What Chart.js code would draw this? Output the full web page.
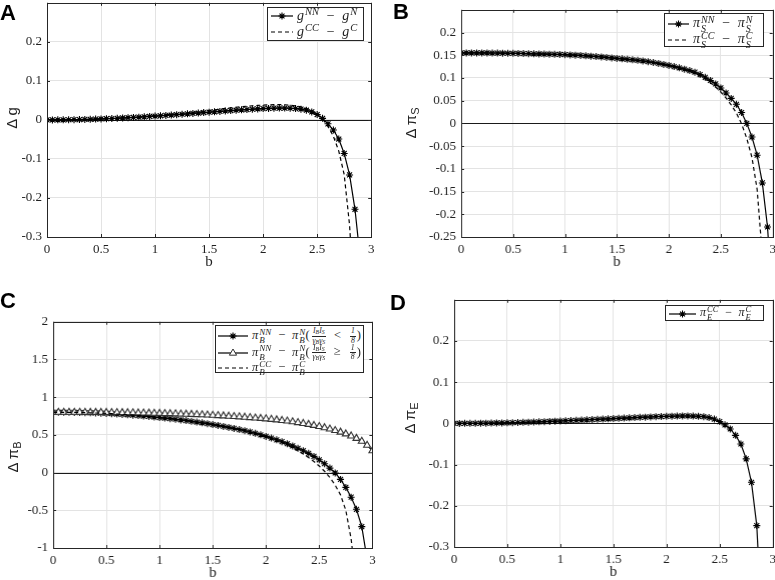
<!DOCTYPE html>
<html>
<head>
<meta charset="utf-8">
<title>Payoff differences vs b</title>
<script src="https://cdn.jsdelivr.net/npm/chart.js@4.4.1/dist/chart.umd.min.js"></script>
<style>
  html, body { margin: 0; padding: 0; background: #fff; }
  body { position: relative; width: 775px; height: 580px; overflow: hidden; }
  .panel { position: absolute; }
  .letter { position: absolute; font: bold 22px 'Liberation Sans', Arial, sans-serif; line-height: 22px; color: #000; }
  .ytitle { position: absolute; font: 15px 'Liberation Sans', Arial, sans-serif; color: #1f1f1f; white-space: nowrap; line-height: 1;
            transform: translate(-50%, -50%) rotate(-90deg); }
  .ytitle sub { font-size: 11px; vertical-align: -3px; }
  .legend { position: absolute; box-sizing: border-box; border: 1px solid #262626; background: #fff; color: #1f1f1f;
            font-family: 'Liberation Serif', 'Times New Roman', serif; font-style: italic; }
  .legend .row { position: absolute; left: 0; height: 16px; display: flex; align-items: center; white-space: nowrap; }
  .legend svg { flex: none; }
  .legend .txt { margin-left: 4px; }
  .legend sup { font-size: 0.75em; vertical-align: 0.5em; line-height: 0; margin-left: 1px; }
  .ss { display: inline-flex; flex-direction: column; font-size: 0.72em; line-height: 0.92; vertical-align: middle; margin-left: 1px; }
  .op { font-style: normal; margin: 0 0.55em; }
  .par { font-style: normal; }
  .frac { display: inline-flex; flex-direction: column; align-items: center; font-size: 0.62em; vertical-align: middle; margin: 0 1px 0 2px; }
  .frac > span { display: block; line-height: 1.05; padding: 0 1px; }
  .frac > span:first-child { border-bottom: 0.7px solid #262626; }
  .frac sub { font-size: 0.75em; vertical-align: -0.15em; line-height: 0; }
</style>
</head>
<body>
<script>
// ─── DATA ───────────────────────────────────────────
// b grid (markers every 0.05)
const bValues = [0, 0.05, 0.1, 0.15, 0.2, 0.25, 0.3, 0.35, 0.4, 0.45,
  0.5, 0.55, 0.6, 0.65, 0.7, 0.75, 0.8, 0.85, 0.9, 0.95,
  1, 1.05, 1.1, 1.15, 1.2, 1.25, 1.3, 1.35, 1.4, 1.45,
  1.5, 1.55, 1.6, 1.65, 1.7, 1.75, 1.8, 1.85, 1.9, 1.95,
  2, 2.05, 2.1, 2.15, 2.2, 2.25, 2.3, 2.35, 2.4, 2.45,
  2.5, 2.55, 2.6, 2.65, 2.7, 2.75, 2.8, 2.85, 2.9, 2.95, 3];

const xTicks = [0, 0.5, 1, 1.5, 2, 2.5, 3];
const yTicksA = [-0.3, -0.2, -0.1, 0, 0.1, 0.2];
const yTicksB = [-0.25, -0.2, -0.15, -0.1, -0.05, 0, 0.05, 0.1, 0.15, 0.2];
const yTicksC = [-1, -0.5, 0, 0.5, 1, 1.5, 2];
const yTicksD = [-0.3, -0.2, -0.1, 0, 0.1, 0.2];

// A: g^NN - g^N (stars) and g^CC - g^C (dashed)
const gNN = [0, 0, 0.0001, 0.0002, 0.0004, 0.0006, 0.0009, 0.0012, 0.0016, 0.002,
  0.0025, 0.003, 0.0036, 0.0042, 0.0049, 0.0056, 0.0063, 0.0071, 0.0079, 0.0088,
  0.0097, 0.0106, 0.0115, 0.0125, 0.0135, 0.0145, 0.0155, 0.0166, 0.0176, 0.0187,
  0.0197, 0.0207, 0.0218, 0.0228, 0.0238, 0.0248, 0.0257, 0.0266, 0.0274, 0.0282,
  0.0289, 0.0295, 0.03, 0.0303, 0.0303, 0.03, 0.0291, 0.0275, 0.0248, 0.0205,
  0.0138, 0.004, -0.01, -0.026, -0.049, -0.086, -0.141, -0.229, -0.36];
const gCC = [0, 0, 0.0001, 0.0002, 0.0004, 0.0006, 0.0009, 0.0013, 0.0017, 0.0021,
  0.0026, 0.0032, 0.0038, 0.0045, 0.0052, 0.006, 0.0068, 0.0077, 0.0087, 0.0097,
  0.0108, 0.0119, 0.0131, 0.0143, 0.0156, 0.0169, 0.0183, 0.0197, 0.0211, 0.0225,
  0.024, 0.0258, 0.0276, 0.0293, 0.0309, 0.0324, 0.0338, 0.0351, 0.0362, 0.0372,
  0.038, 0.0386, 0.039, 0.0391, 0.0388, 0.0378, 0.036, 0.0332, 0.029, 0.0228,
  0.014, 0.002, -0.016, -0.042, -0.08, -0.14, -0.27, -0.5];

// B: pi_S
const piSNN = [0.1552, 0.1552, 0.1552, 0.1551, 0.1551, 0.155, 0.1549, 0.1548, 0.1546, 0.1544,
  0.1542, 0.154, 0.1537, 0.1534, 0.1531, 0.1528, 0.1526, 0.1523, 0.152, 0.1517,
  0.1513, 0.1508, 0.1502, 0.1495, 0.1488, 0.148, 0.1471, 0.1462, 0.1452, 0.1442,
  0.143, 0.1421, 0.1411, 0.14, 0.1388, 0.1374, 0.1358, 0.134, 0.132, 0.1298,
  0.1275, 0.125, 0.1223, 0.1194, 0.1162, 0.1127, 0.1075, 0.1015, 0.0945, 0.0868,
  0.078, 0.067, 0.055, 0.042, 0.024, 0.0, -0.03, -0.07, -0.131, -0.228, -0.4];
const piSCC = [0.1552, 0.1552, 0.1552, 0.1551, 0.1551, 0.155, 0.1549, 0.1548, 0.1546, 0.1544,
  0.1542, 0.154, 0.1537, 0.1534, 0.1531, 0.1528, 0.1526, 0.1523, 0.152, 0.1517,
  0.1513, 0.1508, 0.1502, 0.1495, 0.1488, 0.148, 0.1471, 0.1462, 0.1452, 0.1442,
  0.143, 0.1421, 0.1411, 0.14, 0.1388, 0.1374, 0.1358, 0.134, 0.132, 0.1298,
  0.1275, 0.125, 0.1215, 0.118, 0.114, 0.1095, 0.104, 0.0975, 0.0895, 0.08,
  0.069, 0.056, 0.041, 0.023, -0.001, -0.033, -0.075, -0.145, -0.29];

// C: pi_B
const piBNNlow = [0.8, 0.8, 0.7995, 0.799, 0.798, 0.7965, 0.795, 0.793, 0.7905, 0.788,
  0.785, 0.781, 0.777, 0.772, 0.767, 0.762, 0.756, 0.75, 0.744, 0.737,
  0.73, 0.723, 0.7155, 0.7075, 0.699, 0.69, 0.6805, 0.6705, 0.66, 0.649,
  0.6375, 0.6255, 0.613, 0.5995, 0.5855, 0.571, 0.5555, 0.539, 0.5215, 0.501,
  0.48, 0.458, 0.435, 0.41, 0.383, 0.354, 0.323, 0.29, 0.255, 0.215,
  0.17, 0.118, 0.06, -0.005, -0.09, -0.196, -0.326, -0.487, -0.717, -1.15];
const piBNNhigh = [0.8, 0.8, 0.8, 0.8, 0.7998, 0.7996, 0.7993, 0.799, 0.7986, 0.7981,
  0.7975, 0.7968, 0.796, 0.7951, 0.7941, 0.793, 0.7917, 0.7903, 0.7888, 0.7871,
  0.7853, 0.7835, 0.7815, 0.7794, 0.7771, 0.7747, 0.7721, 0.7693, 0.7663, 0.7631,
  0.7597, 0.7561, 0.7523, 0.7483, 0.744, 0.7395, 0.7347, 0.7297, 0.7244, 0.7188,
  0.7129, 0.7064, 0.6994, 0.6919, 0.6834, 0.6739, 0.6634, 0.6519, 0.6394, 0.6259,
  0.6114, 0.5955, 0.578, 0.5585, 0.537, 0.513, 0.486, 0.454, 0.415, 0.363, 0.29];
const piBCC = [0.8, 0.8, 0.7995, 0.799, 0.798, 0.7965, 0.795, 0.793, 0.7905, 0.788,
  0.785, 0.781, 0.777, 0.772, 0.767, 0.762, 0.756, 0.75, 0.744, 0.737,
  0.73, 0.723, 0.7155, 0.7075, 0.699, 0.69, 0.6805, 0.6705, 0.66, 0.649,
  0.6375, 0.6255, 0.613, 0.5995, 0.5855, 0.571, 0.5555, 0.539, 0.5215, 0.5,
  0.477, 0.452, 0.425, 0.396, 0.364, 0.329, 0.29, 0.247, 0.2, 0.147,
  0.087, 0.018, -0.065, -0.165, -0.295, -0.5, -0.88, -1.5];

// D: pi_E
const piECC = [0, 0, 0.0001, 0.0001, 0.0002, 0.0004, 0.0005, 0.0007, 0.001, 0.0012,
  0.0015, 0.0018, 0.0022, 0.0025, 0.0029, 0.0034, 0.0038, 0.0043, 0.0048, 0.0053,
  0.0058, 0.0064, 0.0069, 0.0075, 0.0081, 0.0087, 0.0093, 0.0099, 0.0105, 0.0111,
  0.0117, 0.0123, 0.0129, 0.0135, 0.0141, 0.0147, 0.0152, 0.0157, 0.0162, 0.0167,
  0.0171, 0.0175, 0.0178, 0.018, 0.0181, 0.0179, 0.0173, 0.0162, 0.0141, 0.0105,
  0.0045, -0.0035, -0.0135, -0.029, -0.05, -0.086, -0.143, -0.248, -0.5];

// ─── STYLE ──────────────────────────────────────────
const INK = '#1f1f1f';
const GRID = '#e3e3e3';
const SERIF = '"Liberation Serif", "DejaVu Serif", serif';
const Y_AXIS_W = 46, X_AXIS_H = 34, PAD_T = 10, PAD_R = 12;

Chart.defaults.font.family = SERIF;
Chart.defaults.color = INK;

function curve(values, kind) {
  return {
    data: values.map((v, i) => ({ x: bValues[i], y: v })),
    borderColor: '#000',
    borderWidth: 1.2,
    borderDash: kind === 'dash' ? [4, 3] : [],
    pointStyle: kind === 'tri' ? 'triangle' : 'star',
    pointRadius: kind === 'dash' ? 0 : (kind === 'tri' ? 4 : 3.5),
    pointBorderColor: kind === 'tri' ? '#333' : '#000',
    pointBackgroundColor: '#fff',
    pointBorderWidth: 1.1,
    tension: 0,
    fill: false,
  };
}

// box, inward ticks and the zero reference line
const framePlugin = {
  id: 'frame',
  beforeDatasetsDraw(chart) {
    const { ctx, chartArea: a, scales: { y } } = chart;
    const y0 = Math.round(y.getPixelForValue(0)) + 0.5;
    ctx.save();
    ctx.strokeStyle = '#1a1a1a';
    ctx.lineWidth = 1.2;
    ctx.beginPath(); ctx.moveTo(a.left, y0); ctx.lineTo(a.right, y0); ctx.stroke();
    ctx.restore();
  },
  afterDatasetsDraw(chart) {
    const { ctx, chartArea: a, scales: { x, y } } = chart;
    ctx.save();
    ctx.strokeStyle = '#262626';
    ctx.lineWidth = 1;
    ctx.strokeRect(Math.round(a.left) + 0.5, Math.round(a.top) + 0.5,
      Math.round(a.right - a.left), Math.round(a.bottom - a.top));
    ctx.beginPath();
    x.ticks.forEach(t => {
      const px = Math.round(x.getPixelForValue(t.value)) + 0.5;
      ctx.moveTo(px, a.bottom); ctx.lineTo(px, a.bottom - 3);
      ctx.moveTo(px, a.top); ctx.lineTo(px, a.top + 3);
    });
    y.ticks.forEach(t => {
      const py = Math.round(y.getPixelForValue(t.value)) + 0.5;
      ctx.moveTo(a.left, py); ctx.lineTo(a.left + 3, py);
      ctx.moveTo(a.right, py); ctx.lineTo(a.right - 3, py);
    });
    ctx.stroke();
    ctx.restore();
  }
};

function fmt(v) { return String(+v.toFixed(2)); }

function makePanel(p) {
  const a = p.area;
  const div = document.createElement('div');
  div.className = 'panel';
  div.style.left = (a.left - Y_AXIS_W) + 'px';
  div.style.top = (a.top - PAD_T) + 'px';
  div.style.width = (a.right - a.left + Y_AXIS_W + PAD_R) + 'px';
  div.style.height = (a.bottom - a.top + PAD_T + X_AXIS_H) + 'px';
  const canvas = document.createElement('canvas');
  div.appendChild(canvas);
  document.body.appendChild(div);

  return new Chart(canvas, {
    type: 'line',
    data: { datasets: p.datasets },
    options: {
      responsive: true,
      maintainAspectRatio: false,
      animation: false,
      layout: { padding: { top: PAD_T, right: PAD_R, left: 0, bottom: 0 } },
      plugins: { legend: { display: false }, tooltip: { enabled: false } },
      scales: {
        x: {
          type: 'linear', min: 0, max: 3,
          afterBuildTicks: s => { s.ticks = xTicks.map(v => ({ value: v })); },
          afterFit: s => { s.height = X_AXIS_H; },
          ticks: { padding: 5, color: INK, font: { family: SERIF, size: 13 }, callback: fmt, maxRotation: 0 },
          grid: { color: GRID, drawTicks: false },
          border: { display: false },
          title: { display: true, text: 'b', color: INK, padding: 0, font: { family: SERIF, size: 15 } },
        },
        y: {
          type: 'linear', min: p.yMin, max: p.yMax,
          afterBuildTicks: s => { s.ticks = p.yTicks.map(v => ({ value: v })); },
          afterFit: s => { s.width = Y_AXIS_W; },
          ticks: { padding: 5, color: INK, font: { family: SERIF, size: 13 }, callback: fmt },
          grid: { color: GRID, drawTicks: false },
          border: { display: false },
        }
      }
    },
    plugins: [framePlugin]
  });
}

// ─── LEGEND / LABEL OVERLAYS ────────────────────────
function sampleSvg(kind, w) {
  const h = 10, c = 5, m = w / 2;
  let s = `<svg width="${w}" height="${h}">`;
  s += `<line x1="0" y1="${c}" x2="${w}" y2="${c}" stroke="#000" stroke-width="1.2"${kind === 'dash' ? ' stroke-dasharray="4 3"' : ''}/>`;
  if (kind === 'star') {
    const r = 3.5, d = r * 0.707;
    s += `<path d="M${m - r} ${c}H${m + r}M${m} ${c - r}V${c + r}M${m - d} ${c - d}L${m + d} ${c + d}M${m - d} ${c + d}L${m + d} ${c - d}" stroke="#000" stroke-width="1.1"/>`;
  } else if (kind === 'tri') {
    s += `<polygon points="${m},${c - 4} ${m + 3.6},${c + 2.2} ${m - 3.6},${c + 2.2}" fill="#fff" stroke="#333" stroke-width="1"/>`;
  }
  return s + '</svg>';
}

function addLegend(L) {
  const box = document.createElement('div');
  box.className = 'legend';
  Object.assign(box.style, { left: L.left + 'px', top: L.top + 'px', width: L.width + 'px', height: L.height + 'px', fontSize: L.font + 'px' });
  L.rows.forEach((r, i) => {
    const row = document.createElement('div');
    row.className = 'row';
    row.style.top = (L.rowY[i] - 8) + 'px';
    row.style.left = L.sampleX + 'px';
    row.innerHTML = sampleSvg(r.kind, L.sampleW) + `<span class="txt">${r.html}</span>`;
    box.appendChild(row);
  });
  document.body.appendChild(box);
}

function addText(cls, html, x, y) {
  const d = document.createElement('div');
  d.className = cls;
  d.innerHTML = html;
  d.style.left = x + 'px';
  d.style.top = y + 'px';
  document.body.appendChild(d);
}

const MINUS = '<span class="op">−</span>';
const ss = (sup, sub) => `<span class="ss"><span>${sup}</span><span>${sub}</span></span>`;
const frac = (num, den) => `<span class="frac"><span>${num}</span><span>${den}</span></span>`;
const ratio = frac('I<sub>B</sub>I<sub>S</sub>', 'γ<sub>B</sub>γ<sub>S</sub>');

// ─── BUILD ──────────────────────────────────────────
const PANELS = [
  { area: { left: 47.3, top: 0, right: 371.5, bottom: 237 }, yMin: -0.3, yMax: 0.3, yTicks: yTicksA,
    datasets: [curve(gCC, 'dash'), curve(gNN, 'star')] },
  { area: { left: 461, top: 7.3, right: 771.7, bottom: 237.3 }, yMin: -0.25, yMax: 0.25, yTicks: yTicksB,
    datasets: [curve(piSCC, 'dash'), curve(piSNN, 'star')] },
  { area: { left: 53.3, top: 319.3, right: 371.7, bottom: 548.3 }, yMin: -1, yMax: 2, yTicks: yTicksC,
    datasets: [curve(piBCC, 'dash'), curve(piBNNhigh, 'tri'), curve(piBNNlow, 'star')] },
  { area: { left: 454, top: 296.7, right: 771.7, bottom: 546.7 }, yMin: -0.3, yMax: 0.3, yTicks: yTicksD,
    datasets: [curve(piECC, 'star')] },
];

function buildAll() {
  PANELS.forEach(makePanel);

  addLegend({ left: 267, top: 7, width: 97, height: 34, font: 14, sampleX: 3, sampleW: 22, rowY: [8, 24],
    rows: [
      { kind: 'star', html: `g<sup>NN</sup>${MINUS}g<sup>N</sup>` },
      { kind: 'dash', html: `g<sup>CC</sup>${MINUS}g<sup>C</sup>` },
    ] });
  addLegend({ left: 664, top: 13, width: 100, height: 34, font: 14, sampleX: 3, sampleW: 21, rowY: [10, 26],
    rows: [
      { kind: 'star', html: `π${ss('NN', 'S')}${MINUS}π${ss('N', 'S')}` },
      { kind: 'dash', html: `π${ss('CC', 'S')}${MINUS}π${ss('C', 'S')}` },
    ] });
  addLegend({ left: 215, top: 325, width: 149, height: 48, font: 12.5, sampleX: 2, sampleW: 30, rowY: [10, 26.5, 42],
    rows: [
      { kind: 'star', html: `π${ss('NN', 'B')}${MINUS}π${ss('N', 'B')}<span class="par">(</span>${ratio}<span class="op">&lt;</span>${frac('1', '8')}<span class="par">)</span>` },
      { kind: 'tri', html: `π${ss('NN', 'B')}${MINUS}π${ss('N', 'B')}<span class="par">(</span>${ratio}<span class="op">≥</span>${frac('1', '8')}<span class="par">)</span>` },
      { kind: 'dash', html: `π${ss('CC', 'B')}${MINUS}π${ss('C', 'B')}` },
    ] });
  addLegend({ left: 665, top: 305, width: 99, height: 16, font: 12, sampleX: 3, sampleW: 27, rowY: [7.5],
    rows: [
      { kind: 'star', html: `π${ss('CC', 'E')}${MINUS}π${ss('C', 'E')}` },
    ] });

  addText('ytitle', 'Δ g', 10.5, 118);
  addText('ytitle', 'Δ π<sub>S</sub>', 411.5, 123);
  addText('ytitle', 'Δ π<sub>B</sub>', 13.5, 457);
  addText('ytitle', 'Δ π<sub>E</sub>', 411, 418);

  addText('letter', 'A', 0, 2);
  addText('letter', 'B', 393, 0.5);
  addText('letter', 'C', 0, 290);
  addText('letter', 'D', 390, 292);
}

// make sure the serif face is ready before the canvases draw text
Promise.all([
  document.fonts.load('13px "Liberation Serif"'),
  document.fonts.load('15px "Liberation Serif"'),
]).catch(() => {}).then(buildAll);
</script>
</body>
</html>
